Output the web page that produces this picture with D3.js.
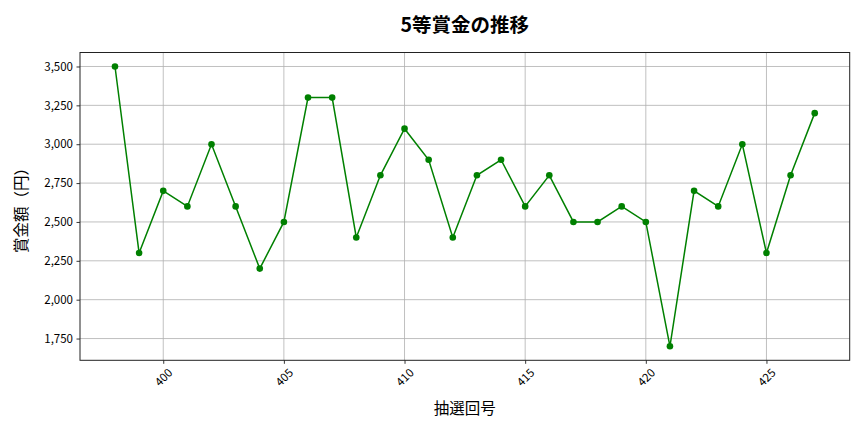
<!DOCTYPE html>
<html>
<head>
<meta charset="utf-8">
<script src="https://cdn.jsdelivr.net/npm/d3@7"></script>
<style>
  body { margin: 0; background: #fff; }
  text { font-family: "Noto Sans CJK JP", "Noto Sans", sans-serif; fill: #000; }
</style>
</head>
<body>
<svg id="chart" width="864" height="432"></svg>
<script>
// draw numbers (抽選回号)
var draws = [398, 399, 400, 401, 402, 403, 404, 405, 406, 407, 408, 409, 410, 411, 412,
             413, 414, 415, 416, 417, 418, 419, 420, 421, 422, 423, 424, 425, 426, 427];
// 5th prize amounts (円)
var prizes = [3500, 2300, 2700, 2600, 3000, 2600, 2200, 2500, 3300, 3300, 2400, 2800, 3100, 2900, 2400,
              2800, 2900, 2600, 2800, 2500, 2500, 2600, 2500, 1700, 2700, 2600, 3000, 2300, 2800, 3200];
var xTicks = [400, 405, 410, 415, 420, 425];
var yTicks = [1750, 2000, 2250, 2500, 2750, 3000, 3250, 3500];

var margin = {left: 80, right: 14.3, top: 52.5, bottom: 71.7};
var W = 864, H = 432;
var svg = d3.select('#chart');

var x = d3.scaleLinear().domain([396.55, 428.45]).range([margin.left, W - margin.right]);
var y = d3.scaleLinear().domain([1610, 3590]).range([H - margin.bottom, margin.top]);

// grid
var grid = svg.append('g');
grid.selectAll('.vg').data(xTicks).enter().append('line')
  .attr('x1', function(d) { return x(d); }).attr('x2', function(d) { return x(d); })
  .attr('y1', margin.top).attr('y2', H - margin.bottom)
  .attr('stroke', '#b0b0b0').attr('stroke-width', 0.8);
grid.selectAll('.hg').data(yTicks).enter().append('line')
  .attr('y1', function(d) { return y(d); }).attr('y2', function(d) { return y(d); })
  .attr('x1', margin.left).attr('x2', W - margin.right)
  .attr('stroke', '#b0b0b0').attr('stroke-width', 0.8);

// axes
var fmt = d3.format(',');
var xAxis = svg.append('g')
  .attr('transform', 'translate(0,' + (H - margin.bottom) + ')')
  .call(d3.axisBottom(x).tickValues(xTicks).tickSize(3.5).tickSizeOuter(0));
// rotated labels centred under the tick, like matplotlib rotation=45
xAxis.selectAll('.tick text')
  .style('font-size', '11.5px')
  .attr('text-anchor', 'middle')
  .attr('y', 0).attr('dy', '0.35em')
  .attr('transform', 'translate(0,17) rotate(-45)');
var yAxis = svg.append('g')
  .attr('transform', 'translate(' + margin.left + ',0)')
  .call(d3.axisLeft(y).tickValues(yTicks).tickFormat(fmt).tickSize(3.5).tickSizeOuter(0));
yAxis.selectAll('text').style('font-size', '11.5px').attr('x', -7);
svg.selectAll('.domain').remove();
svg.selectAll('.tick line').attr('stroke', '#000').attr('stroke-width', 0.8);

// frame
svg.append('rect')
  .attr('x', margin.left).attr('y', margin.top)
  .attr('width', W - margin.left - margin.right)
  .attr('height', H - margin.top - margin.bottom)
  .attr('fill', 'none').attr('stroke', '#222').attr('stroke-width', 1);

// line + markers
var pts = draws.map(function(d, i) { return [d, prizes[i]]; });
svg.append('path')
  .datum(pts)
  .attr('fill', 'none').attr('stroke', 'green').attr('stroke-width', 1.5)
  .attr('d', d3.line().x(function(d) { return x(d[0]); }).y(function(d) { return y(d[1]); }));
svg.selectAll('.pt').data(pts).enter().append('circle')
  .attr('cx', function(d) { return x(d[0]); })
  .attr('cy', function(d) { return y(d[1]); })
  .attr('r', 3.3).attr('fill', 'green');

// labels
svg.append('text')
  .attr('x', (margin.left + W - margin.right) / 2).attr('y', 32)
  .attr('text-anchor', 'middle')
  .style('font-size', '19.5px').style('font-weight', 'bold')
  .text('5等賞金の推移');
svg.append('text')
  .attr('x', (margin.left + W - margin.right) / 2).attr('y', 414)
  .attr('text-anchor', 'middle')
  .style('font-size', '15.5px')
  .text('抽選回号');
svg.append('text')
  .attr('transform', 'translate(27,' + ((margin.top + H - margin.bottom) / 2) + ') rotate(-90)')
  .attr('text-anchor', 'middle')
  .style('font-size', '15.5px')
  .text('賞金額（円）');
</script>
</body>
</html>
